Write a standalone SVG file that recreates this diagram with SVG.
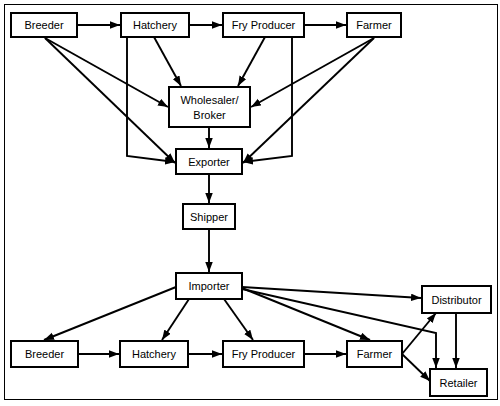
<svg xmlns="http://www.w3.org/2000/svg" width="500" height="406" viewBox="0 0 500 406">
<style>
.box{fill:#fff;stroke:#000;stroke-width:2}
.lbl{font-family:"Liberation Sans",Arial,sans-serif;font-size:11px;fill:#000;text-anchor:middle;dominant-baseline:central}
.c{fill:none;stroke:#000;stroke-width:1.9;marker-end:url(#ah)}
</style>
<defs>
<marker id="ah" markerUnits="userSpaceOnUse" markerWidth="11" markerHeight="8" refX="10" refY="3.75" orient="auto">
<path d="M0,0 L10,3.75 L0,7.5 z" fill="#000"/>
</marker>
</defs>
<rect x="4.5" y="4.5" width="493" height="395" fill="#fff" stroke="#000" stroke-width="1"/>
<g id="connectors">
<line class="c" x1="77" y1="25" x2="120" y2="25"/>
<line class="c" x1="189" y1="25" x2="222" y2="25"/>
<line class="c" x1="304" y1="25" x2="346" y2="25"/>
<line class="c" x1="45" y1="38" x2="168" y2="107"/>
<line class="c" x1="45" y1="38" x2="175" y2="163"/>
<polyline class="c" points="127,37 127,156 175,162"/>
<line class="c" x1="154" y1="37" x2="181" y2="86"/>
<line class="c" x1="265" y1="37" x2="238" y2="86"/>
<polyline class="c" points="292,37 292,156 243,162"/>
<line class="c" x1="374" y1="38" x2="251" y2="107"/>
<line class="c" x1="374" y1="38" x2="243" y2="163"/>
<line class="c" x1="209" y1="127" x2="209" y2="148"/>
<line class="c" x1="209" y1="174" x2="209" y2="203"/>
<line class="c" x1="209" y1="229" x2="209" y2="272"/>
<line class="c" x1="176" y1="287" x2="44" y2="340"/>
<line class="c" x1="189" y1="299" x2="162" y2="340"/>
<line class="c" x1="224" y1="299" x2="253" y2="340"/>
<line class="c" x1="242" y1="288" x2="370" y2="340"/>
<line class="c" x1="242" y1="287" x2="421" y2="298"/>
<polyline class="c" points="242,289 436,333 436,368"/>
<line class="c" x1="456" y1="313" x2="456" y2="368"/>
<line class="c" x1="402" y1="354" x2="436" y2="313"/>
<line class="c" x1="402" y1="354" x2="430" y2="381"/>
<line class="c" x1="78" y1="354" x2="119" y2="354"/>
<line class="c" x1="188" y1="354" x2="222" y2="354"/>
<line class="c" x1="304" y1="354" x2="346" y2="354"/>
</g>
<g id="breeder1"><rect class="box" x="11" y="13" width="66" height="24"/><text class="lbl" x="44" y="25">Breeder</text></g>
<g id="hatchery1"><rect class="box" x="121" y="13" width="68" height="24"/><text class="lbl" x="155" y="25">Hatchery</text></g>
<g id="fry1"><rect class="box" x="223" y="13" width="81" height="24"/><text class="lbl" x="263.5" y="25">Fry Producer</text></g>
<g id="farmer1"><rect class="box" x="347" y="13" width="54" height="24"/><text class="lbl" x="374" y="25">Farmer</text></g>
<g id="wholesaler"><rect class="box" x="169" y="87" width="81" height="40"/><text class="lbl" x="209.5" y="100">Wholesaler/</text><text class="lbl" x="209.5" y="115">Broker</text></g>
<g id="exporter"><rect class="box" x="176" y="149" width="66" height="25"/><text class="lbl" x="209" y="161.5">Exporter</text></g>
<g id="shipper"><rect class="box" x="183" y="204" width="52" height="25"/><text class="lbl" x="209" y="216.5">Shipper</text></g>
<g id="importer"><rect class="box" x="176" y="273" width="66" height="26"/><text class="lbl" x="209" y="286">Importer</text></g>
<g id="breeder2"><rect class="box" x="11" y="341" width="67" height="26"/><text class="lbl" x="44.5" y="354">Breeder</text></g>
<g id="hatchery2"><rect class="box" x="120" y="341" width="68" height="26"/><text class="lbl" x="154" y="354">Hatchery</text></g>
<g id="fry2"><rect class="box" x="223" y="341" width="81" height="26"/><text class="lbl" x="263.5" y="354">Fry Producer</text></g>
<g id="farmer2"><rect class="box" x="347" y="341" width="55" height="26"/><text class="lbl" x="374.5" y="354">Farmer</text></g>
<g id="distributor"><rect class="box" x="422" y="286" width="69" height="27"/><text class="lbl" x="456.5" y="299.5">Distributor</text></g>
<g id="retailer"><rect class="box" x="430" y="369" width="57" height="27"/><text class="lbl" x="458.5" y="382.5">Retailer</text></g>
</svg>
